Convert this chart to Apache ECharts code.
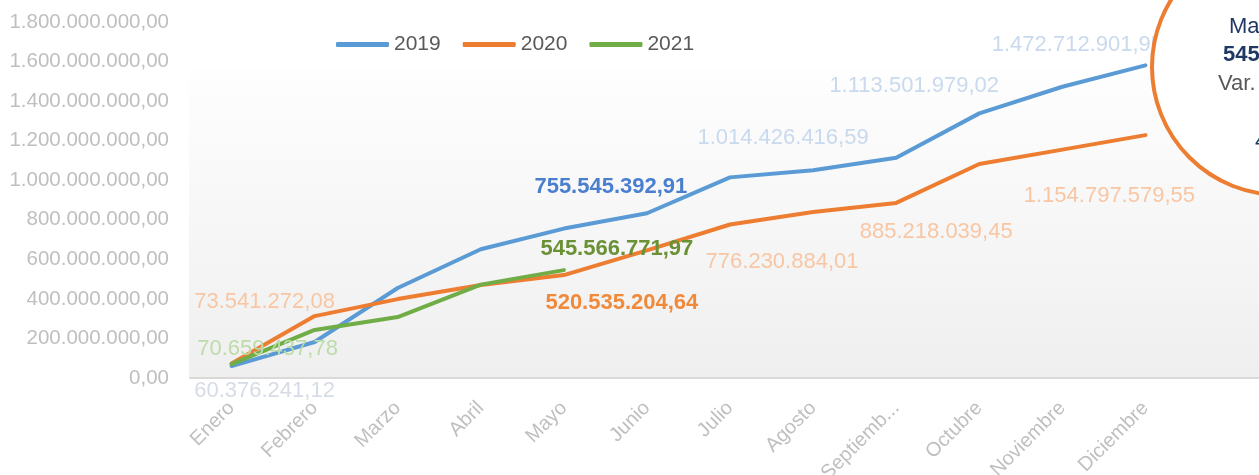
<!DOCTYPE html>
<html>
<head>
<meta charset="utf-8">
<script src="https://cdn.jsdelivr.net/npm/echarts@6/dist/echarts.min.js"></script>
<style>
  html, body { margin: 0; padding: 0; background: #fff; }
  #grafico { width: 1259px; height: 475px; }
</style>
</head>
<body>
<div id="grafico"></div>
<script>
var meses = ['Enero', 'Febrero', 'Marzo', 'Abril', 'Mayo', 'Junio', 'Julio', 'Agosto', 'Septiembre', 'Octubre', 'Noviembre', 'Diciembre'];
var anios = ['2019', '2020', '2021'];
var v2019 = [60376241.12, 182000000, 455000000, 651000000, 755545392.91, 833000000, 1014426416.59, 1050000000, 1113501979.02, 1338000000, 1472712901.95, 1581000000];
var v2020 = [73541272.08, 313000000, 399000000, 470000000, 520535204.64, 645000000, 776230884.01, 839000000, 885218039.45, 1082000000, 1154797579.55, 1228000000];
var v2021 = [70659437.78, 243000000, 308000000, 472000000, 545566771.97];
var yTicks = [0, 200000000, 400000000, 600000000, 800000000, 1000000000, 1200000000, 1400000000, 1600000000, 1800000000];

var colores = ['#5B9BD5', '#ED7D31', '#70AD47'];

// etiquetas por punto: indice -> desplazamiento y estilo
var etiquetas = [
    {
        0: { offset: [33, 25], color: '#d6dce5' },
        4: { offset: [47, -42], color: '#4a7fcf', bold: true },
        6: { offset: [53, -39], color: '#c9d9ee' },
        8: { offset: [18, -72], color: '#c9d9ee' },
        10: { offset: [15, -42], color: '#c9d9ee' }
    },
    {
        0: { offset: [33, -62], color: '#f8c6a3' },
        4: { offset: [58, 28], color: '#f08a3a', bold: true },
        6: { offset: [52, 37], color: '#f8c6a3' },
        8: { offset: [40, 29], color: '#f8c6a3' },
        10: { offset: [47, 46], color: '#f8c6a3' }
    },
    {
        0: { offset: [36, -15], color: '#bcdca9' },
        4: { offset: [53, -21], color: '#6a9136', bold: true }
    }
];

function fmt(v) {
    var p = Number(v).toFixed(2).split('.');
    return p[0].replace(/\B(?=(\d{3})+(?!\d))/g, '.') + ',' + p[1];
}

function puntos(valores, conf) {
    return valores.map(function (v, i) {
        var c = conf[i];
        if (!c) return v;
        return {
            value: v,
            label: {
                show: true,
                position: 'inside',
                offset: c.offset,
                color: c.color,
                fontWeight: c.bold ? 'bold' : 'normal',
                fontSize: 22,
                fontFamily: 'Liberation Sans',
                formatter: function (p) { return fmt(p.value); }
            }
        };
    });
}

var valores = [v2019, v2020, v2021];
var series = anios.map(function (a, k) {
    return {
        name: a,
        type: 'line',
        data: puntos(valores[k], etiquetas[k]),
        symbol: 'circle',
        symbolSize: 0,
        showSymbol: true,
        color: colores[k],
        lineStyle: { width: 4, color: colores[k], cap: 'round', join: 'round' },
        label: { show: false },
        emphasis: { disabled: true }
    };
});

var myChart = echarts.init(document.getElementById('grafico'));
myChart.setOption({
    animation: false,
    backgroundColor: '#ffffff',
    legend: {
        data: anios,
        top: 29,
        left: 331,
        icon: 'roundRect',
        itemWidth: 53,
        itemHeight: 5,
        itemGap: 22,
        textStyle: { fontSize: 21, color: '#595959', fontFamily: 'Liberation Sans' }
    },
    grid: { left: 190, top: 22, bottom: 97, width: 997, containLabel: false, outerBoundsMode: 'none' },
    xAxis: {
        type: 'category',
        data: meses,
        boundaryGap: true,
        axisLine: { lineStyle: { color: '#d9d9d9', width: 2 } },
        axisTick: { show: false },
        axisLabel: {
            rotate: 45,
            margin: 27,
            fontSize: 20,
            color: '#bfbfbf',
            fontFamily: 'Liberation Sans',
            formatter: function (v) { return v.length > 9 ? v.slice(0, 8) + '...' : v; }
        }
    },
    yAxis: {
        type: 'value',
        min: yTicks[0],
        max: yTicks[yTicks.length - 1],
        interval: yTicks[1] - yTicks[0],
        splitLine: { show: false },
        axisLine: { show: false },
        axisTick: { show: false },
        axisLabel: {
            margin: 21,
            fontSize: 20.5,
            color: '#bfbfbf',
            fontFamily: 'Liberation Sans',
            formatter: function (v) { return fmt(v); }
        }
    },
    graphic: [
        {
            type: 'rect',
            z: -1,
            silent: true,
            shape: { x: 189, y: 69, width: 1070, height: 309 },
            style: {
                fill: new echarts.graphic.LinearGradient(0, 0, 0, 1, [
                    { offset: 0, color: '#fefefe' },
                    { offset: 1, color: '#efefef' }
                ])
            }
        },
        {
            type: 'line',
            z: 1,
            silent: true,
            shape: { x1: 1186, y1: 378, x2: 1259, y2: 378 },
            style: { stroke: '#d9d9d9', lineWidth: 2 }
        },
        {
            type: 'circle',
            z: 10,
            silent: true,
            shape: { cx: 1280, cy: 67, r: 128 },
            style: { fill: '#ffffff', stroke: '#ED7D31', lineWidth: 4 }
        },
        {
            type: 'text', z: 11, x: 1229, y: 27,
            style: { text: 'Mayo 2021', fill: '#1f3864', font: '22px "Liberation Sans"', align: 'left', verticalAlign: 'middle' }
        },
        {
            type: 'text', z: 11, x: 1223, y: 55,
            style: { text: '545.566.771,97', fill: '#1f3864', font: 'bold 22px "Liberation Sans"', align: 'left', verticalAlign: 'middle' }
        },
        {
            type: 'text', z: 11, x: 1218, y: 84,
            style: { text: 'Var. % 2020', fill: '#595959', font: '22px "Liberation Sans"', align: 'left', verticalAlign: 'middle' }
        },
        {
            type: 'text', z: 11, x: 1255, y: 142,
            style: { text: '4,81%', fill: '#1f3864', font: '22px "Liberation Sans"', align: 'left', verticalAlign: 'middle' }
        }
    ],
    series: series
});
</script>
</body>
</html>
